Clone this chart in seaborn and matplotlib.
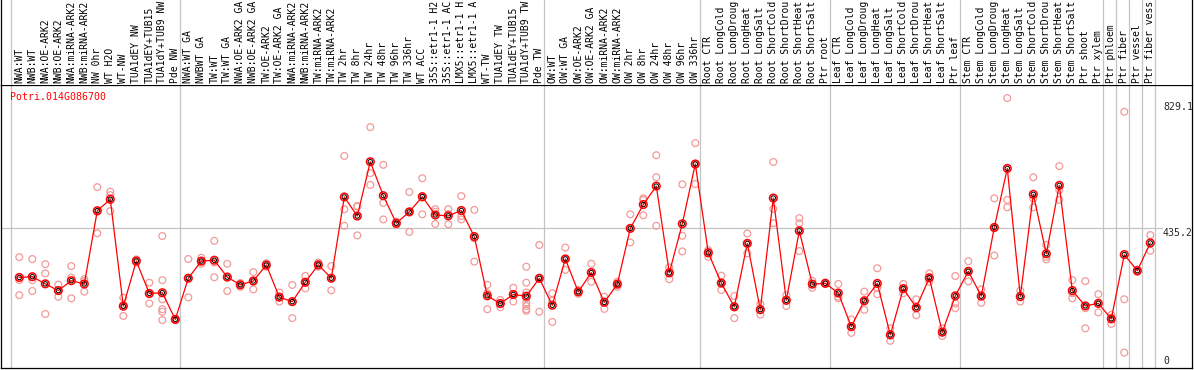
import numpy as np
import pandas as pd
import matplotlib
matplotlib.use("Agg")
import matplotlib.pyplot as plt
import seaborn as sns

# ---------------- data ----------------
gene_id = "Potri.014G086700"

nw_labels = ["NWA:WT", "NWB:WT", "NWA:OE-ARK2", "NWB:OE-ARK2", "NWA:miRNA-ARK2",
             "NWB:miRNA-ARK2", "NW 0hr", "WT H2O", "WT-NW", "TUA1dEY NW",
             "TUA1dEY+TUB15", "TUA1dY+TUB9 NW", "Pde NW"]
nw_reps = [[344, 272, 225], [338, 272, 238], [322, 293, 166], [258, 240, 220],
           [316, 280, 215], [275, 269, 236], [563, 486, 419], [549, 538, 488],
           [217, 194, 160], [337, 332, 327], [264, 228, 199],
           [410, 272, 212, 181, 173, 147], [151, 149, 147]]

tw_labels = ["NWA:WT GA", "NWBWT GA", "TW:WT", "TW:WT GA", "NWA:OE-ARK2 GA",
             "NWB:OE-ARK2 GA", "TW:OE-ARK2", "TW:OE-ARK2 GA", "NWA:miRNA-ARK2",
             "NWB:miRNA-ARK2", "TW:miRNA-ARK2", "TW:miRNA-ARK2", "TW 2hr", "TW 8hr",
             "TW 24hr", "TW 48hr", "TW 96hr", "TW 336hr", "WT ACC",
             "35S::etr1-1 H2", "35S::etr1-1 AC", "LMX5::etr1-1 H",
             "LMX5::etr1-1 A", "WT-TW", "TUA1dEY TW", "TUA1dEY+TUB15",
             "TUA1dY+TUB9 TW", "Pde TW"]
tw_reps = [[338, 278, 218], [342, 330, 323], [395, 327, 281], [323, 283, 238],
           [263, 258, 251], [297, 268, 243], [325, 319, 314], [233, 218, 205],
           [257, 204, 153], [285, 265, 246], [327, 319, 314], [316, 278, 240],
           [661, 494, 442], [504, 502, 412], [751, 607, 570], [633, 514, 462],
           [455, 450, 445], [548, 486, 423], [591, 531, 478], [494, 486, 448],
           [494, 479, 447], [535, 473, 462], [492, 403, 330], [257, 231, 181],
           [210, 199, 187], [248, 228, 205],
           [314, 264, 233, 215, 201, 191, 181, 176], [382, 278, 173]]

ow_labels = ["OW:WT", "OW:WT GA", "OW:OE-ARK2", "OW:OE-ARK2 GA", "OW:miRNA-ARK2",
             "OW:miRNA-ARK2", "OW 2hr", "OW 8hr", "OW 24hr", "OW 48hr", "OW 96hr",
             "OW 336hr"]
ow_reps = [[231, 208, 141], [374, 337, 304], [241, 236, 229], [323, 297, 267],
           [220, 205, 182], [267, 260, 251], [478, 434, 390], [528, 523, 475],
           [663, 594, 442], [312, 297, 275], [572, 411, 362], [701, 633, 573]]

root_labels = ["Root CTR", "Root LongCold", "Root LongDroug", "Root LongHeat",
               "Root LongSalt", "Root ShortCold", "Root ShortDrou",
               "Root ShortHeat", "Root ShortSalt", "Ptr root"]
root_reps = [[366, 361, 345], [286, 262, 241], [222, 190, 153], [418, 387, 356],
             [197, 178, 164], [642, 495, 450], [225, 210, 191], [466, 450, 363],
             [270, 260, 248], [264, 262, 260]]

leaf_labels = ["Leaf CTR", "Leaf LongCold", "Leaf LongDroug", "Leaf LongHeat",
               "Leaf LongSalt", "Leaf ShortCold", "Leaf ShortDrou",
               "Leaf ShortHeat", "Leaf ShortSalt", "Ptr leaf"]
leaf_reps = [[260, 220, 215], [149, 124, 107], [236, 207, 179], [309, 248, 228],
             [121, 99, 82], [260, 245, 231], [212, 184, 162], [293, 278, 267],
             [121, 109, 97], [285, 199, 184]]

stem_labels = ["Stem CTR", "Stem LongCold", "Stem LongDroug", "Stem LongHeat",
               "Stem LongSalt", "Stem ShortCold", "Stem ShortDrou",
               "Stem ShortHeat", "Stem ShortSalt", "Ptr shoot", "Ptr xylem"]
stem_reps = [[331, 300, 268], [243, 222, 201], [528, 434, 349], [842, 523, 500],
             [239, 218, 205], [594, 528, 500], [382, 345, 337], [629, 554, 523],
             [272, 231, 215], [269, 184, 121], [228, 199, 171]]

ptr_labels = ["Ptr phloem", "Ptr fiber", "Ptr vessel", "Ptr fiber vess"]
ptr_reps = [[163, 154, 135], [799, 212, 45], [305, 301, 298], [413, 364]]

y_marks = [829.1, 435.2, 0]

# ---------------- assemble ----------------
groups = [(nw_labels, nw_reps), (tw_labels, tw_reps), (ow_labels, ow_reps),
          (root_labels, root_reps), (leaf_labels, leaf_reps),
          (stem_labels, stem_reps)] + [([l], [r]) for l, r in zip(ptr_labels, ptr_reps)]

labels, reps, bounds = [], [], [0]
for gl, gr in groups:
    labels += gl
    reps += gr
    bounds.append(len(labels))

rep_rows = [(i, v) for i, rr in enumerate(reps) for v in rr]
df_rep = pd.DataFrame(rep_rows, columns=["idx", "value"])
df_mean = pd.DataFrame({"idx": np.arange(len(reps)),
                        "mean": [np.mean(r) for r in reps]})

# ---------------- figure ----------------
sns.set_style("white")
plt.rcParams["font.family"] = ["DejaVu Sans Mono"]

W, H = 1194, 370
fig = plt.figure(figsize=(W / 100, H / 100), dpi=100)


def fx(px):
    return px / W


def fy(py):
    return 1 - py / H


X0, X1 = (1 - 19.3) / 13.0, (1192 - 19.3) / 13.0
PXU = 0.3194
Y0, Y1 = -(368 - 367) / PXU, (367 - 85) / PXU

ax = fig.add_axes([fx(1), fy(368), fx(1192) - fx(1), fy(85) - fy(368)])
axh = fig.add_axes([fx(1), fy(85), fx(1192) - fx(1), fy(0) - fy(85)])
for a in (ax, axh):
    a.set_xlim(X0, X1)
    a.set_xticks([])
    a.set_yticks([])
    a.set_xlabel("")
    a.set_ylabel("")
ax.set_ylim(Y0, Y1)
axh.set_ylim(0, 1)
axh.set_facecolor("white")

grey = "#c4c4c4"
for b in bounds:
    ax.axvline(b - 0.65, color=grey, lw=0.9, zorder=0)
    axh.axvline(b - 0.65, color=grey, lw=0.9, zorder=0)
ax.axhline(y_marks[1], xmin=0, xmax=(1162 - 1) / 1191, color=grey, lw=0.9, zorder=0)

for s in ax.spines.values():
    s.set_color("black")
    s.set_linewidth(0.9)
    s.set_zorder(10)
for k, s in axh.spines.items():
    s.set_visible(k in ("left", "right"))
    s.set_color("black")
    s.set_linewidth(0.9)

sns.scatterplot(data=df_rep, x="idx", y="value", ax=ax, marker="o", s=24,
                facecolor="none", edgecolor="#f29a9a", linewidth=0.9,
                legend=False, zorder=2)
sns.lineplot(data=df_mean, x="idx", y="mean", ax=ax, color="#ff0000", lw=0.9,
             legend=False, zorder=3)
sns.scatterplot(data=df_mean, x="idx", y="mean", ax=ax, marker="o", s=30,
                facecolor="none", edgecolor="#ff0000", linewidth=1.1,
                legend=False, zorder=4)
sns.scatterplot(data=df_mean, x="idx", y="mean", ax=ax, marker="o", s=10,
                facecolor="none", edgecolor="#000000", linewidth=0.7,
                legend=False, zorder=5)
ax.set_xlabel("")
ax.set_ylabel("")

ax.text((10 - 19.3) / 13.0, (367 - 97) / PXU, gene_id, color="#ff0000",
        fontsize=7.1, ha="left", va="center")

xr = (1163 - 19.3) / 13.0
ax.text(xr, y_marks[0], f"{y_marks[0]:.1f}", fontsize=7.1, ha="left", va="top")
ax.text(xr, y_marks[1], f"{y_marks[1]:.1f}", fontsize=7.1, ha="left", va="top")
ax.text(xr, 3, f"{y_marks[2]:g}", fontsize=7.1, ha="left", va="bottom")

for i, lab in enumerate(labels):
    axh.text(i, 2 / 85, lab, rotation=90, ha="center", va="bottom",
             fontsize=7, color="black")

fig.savefig("out.png", dpi=100)
